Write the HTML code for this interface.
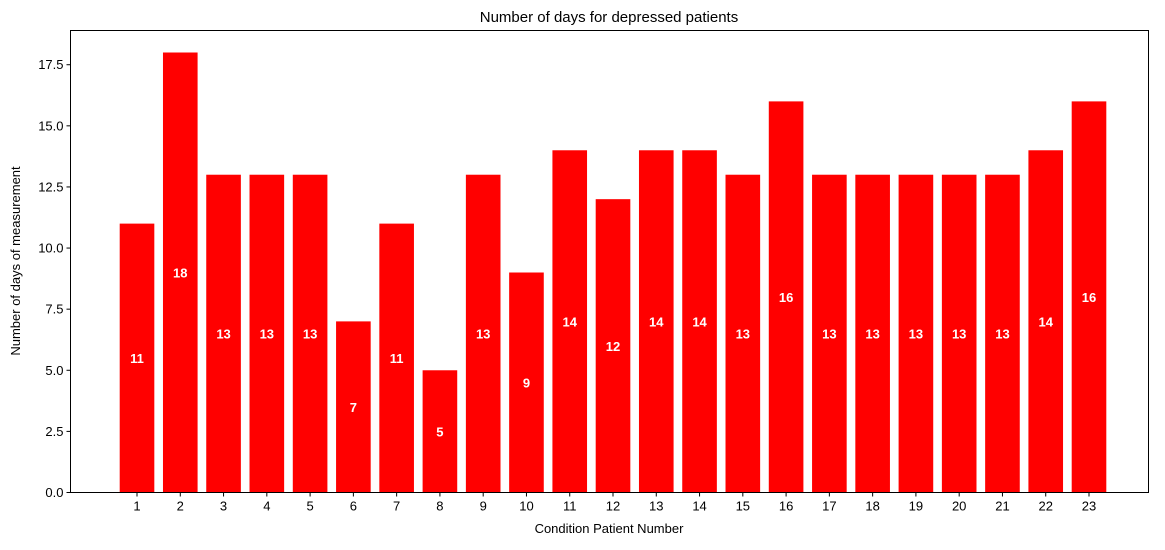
<!DOCTYPE html>
<html><head><meta charset="utf-8"><style>
body{margin:0;background:#fff;width:1165px;height:545px;overflow:hidden;font-family:"Liberation Sans","DejaVu Sans",sans-serif}
</style></head><body>
<svg id="chart" width="1165" height="545" xmlns="http://www.w3.org/2000/svg">
<text x="609" y="22" text-anchor="middle" font-size="15" fill="#000">Number of days for depressed patients</text>
<text x="609" y="533" text-anchor="middle" font-size="13" fill="#000">Condition Patient Number</text>
<text x="0" y="0" transform="translate(20,261) rotate(-90)" text-anchor="middle" font-size="13" fill="#000">Number of days of measurement</text>
<g id="bars"></g>
<g id="xticks"></g>
<g id="yticks"></g>
<rect x="70.5" y="30.5" width="1078" height="462" fill="none" stroke="#000" stroke-width="1"/>
</svg>
<script>
const categories=["1","2","3","4","5","6","7","8","9","10","11","12","13","14","15","16","17","18","19","20","21","22","23"];
const values=[11,18,13,13,13,7,11,5,13,9,14,12,14,14,13,16,13,13,13,13,13,14,16];
const yTickValues=[0,2.5,5,7.5,10,12.5,15,17.5];
const yTickLabels=["0.0","2.5","5.0","7.5","10.0","12.5","15.0","17.5"];
const NS="http://www.w3.org/2000/svg";
const plotLeft=70.5,plotRight=1148.5,plotTop=30.5,plotBottom=492.5;
const xMin=-0.537, xMax=24.375;
function xs(v){return plotLeft+(v-xMin)/(xMax-xMin)*(plotRight-plotLeft);}
const yMax=Math.max(...values)*1.05;
function ys(v){return plotBottom-v/yMax*(plotBottom-plotTop);}
function mk(tag,attrs,parent){const e=document.createElementNS(NS,tag);for(const k in attrs)e.setAttribute(k,attrs[k]);parent.appendChild(e);return e;}
const barsG=document.getElementById('bars'),xtG=document.getElementById('xticks'),ytG=document.getElementById('yticks');
categories.forEach((c,i)=>{
  const p=i+1,x0=xs(p-0.4),x1=xs(p+0.4),yv=ys(values[i]);
  const r=mk('rect',{x:x0,y:yv,width:x1-x0,height:plotBottom-yv,fill:'#ff0000'},barsG);
  
  
  const t=mk('text',{x:xs(p),y:ys(values[i]/2)+5,'text-anchor':'middle','font-size':'13','font-weight':'bold',fill:'#fff'},barsG);
  t.textContent=values[i];
  
  
  const tk=mk('line',{x1:xs(p),x2:xs(p),y1:plotBottom,y2:plotBottom+4,stroke:'#000'},xtG);
  
  
  const tl=mk('text',{x:xs(p),y:plotBottom+18,'text-anchor':'middle','font-size':'13',fill:'#000'},xtG);
  tl.textContent=c;
  
  
});
yTickValues.forEach((v,i)=>{
  const y=ys(v);
  const tk=mk('line',{x1:plotLeft-4,x2:plotLeft,y1:y,y2:y,stroke:'#000'},ytG);
  
  
  const tl=mk('text',{x:plotLeft-7,y:y+4.5,'text-anchor':'end','font-size':'13',fill:'#000'},ytG);
  tl.textContent=yTickLabels[i];
  
  
});
</script>
</body></html>
